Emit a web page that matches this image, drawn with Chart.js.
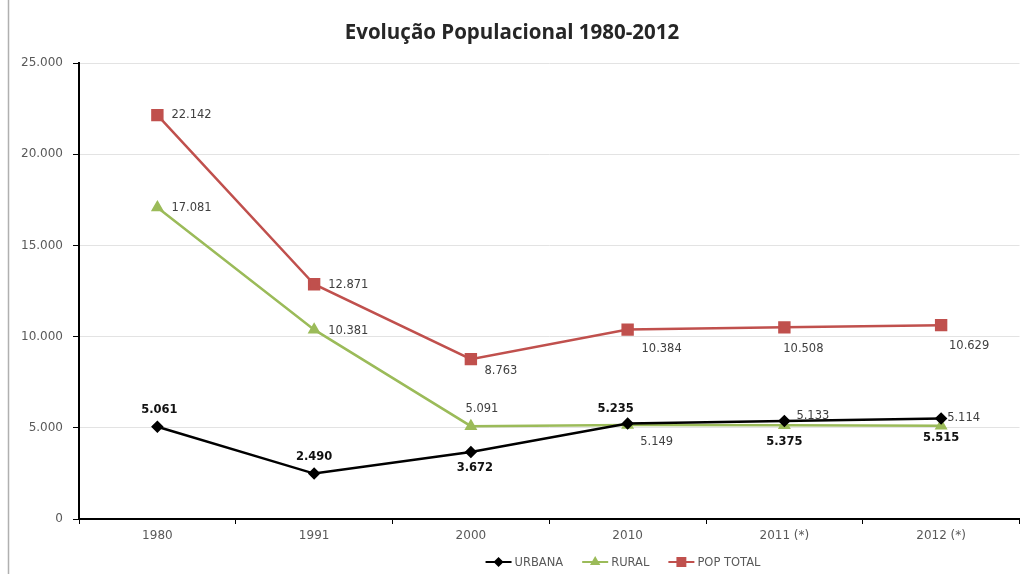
<!DOCTYPE html>
<html>
<head>
<meta charset="utf-8">
<script src="https://cdn.jsdelivr.net/npm/chart.js@4/dist/chart.umd.min.js"></script>
<style>
html, body { margin: 0; padding: 0; background: #fff; }
#wrap { width: 1029px; height: 574px; }
</style>
</head>
<body>
<div id="wrap"><canvas id="chart" width="1029" height="574"></canvas></div>
<script>
const years = ["1980", "1991", "2000", "2010", "2011 (*)", "2012 (*)"];
const urbana = [5061, 2490, 3672, 5235, 5375, 5515];
const rural = [17081, 10381, 5091, 5149, 5133, 5114];
const popTotal = [22142, 12871, 8763, 10384, 10508, 10629];
const yMin = 0, yMax = 25000, yStep = 5000;

/* label offsets [dx, dy, align] relative to each point */
const urbanaLbl = [[2, -17, "center"], [0, -17, "center"], [4, 16, "center"], [-12, -14, "center"], [0, 21, "center"], [0, 20, "center"]];
const ruralLbl = [[14, 1, "left"], [14, 1, "left"], [11, -17, "center"], [29, 17, "center"], [12, -9, "left"], [6, -8, "left"]];
const popLbl = [[14, 0, "left"], [14, 1, "left"], [30, 12, "center"], [34, 19, "center"], [19, 22, "center"], [28, 21, "center"]];

const FONT = "'DejaVu Sans', sans-serif";
const fmt = n => String(n).replace(/\B(?=(\d{3})+(?!\d))/g, ".");

/* gray frame line on the left */
const framePlugin = {
    id: "frame",
    beforeDraw(chart) {
        const ctx = chart.ctx;
        ctx.save();
        ctx.strokeStyle = "#b0b0b0";
        ctx.lineWidth = 1.5;
        ctx.beginPath();
        ctx.moveTo(8.5, 0);
        ctx.lineTo(8.5, chart.height);
        ctx.stroke();
        ctx.restore();
    }
};

/* value labels next to the points */
const labelPlugin = {
    id: "valueLabels",
    afterDatasetsDraw(chart) {
        const ctx = chart.ctx;
        ctx.save();
        ctx.textBaseline = "middle";
        chart.data.datasets.forEach((ds, di) => {
            const meta = chart.getDatasetMeta(di);
            ctx.font = (ds.labelBold ? "bold " : "") + "11.5px " + FONT;
            ctx.fillStyle = ds.labelColor;
            meta.data.forEach((pt, i) => {
                const o = ds.labelPos[i];
                ctx.textAlign = o[2];
                ctx.fillText(fmt(ds.data[i]), pt.x + o[0], pt.y + o[1]);
            });
        });
        ctx.restore();
    }
};

/* Excel-like legend: line + marker + text */
const legendPlugin = {
    id: "lineLegend",
    afterDraw(chart) {
        const ctx = chart.ctx;
        const y = 562, lineLen = 26, gap = 3, itemGap = 19;
        ctx.save();
        ctx.font = "11.5px " + FONT;
        ctx.textBaseline = "middle";
        const items = chart.data.datasets.map(ds => ({ ds, w: lineLen + gap + ctx.measureText(ds.label).width }));
        const total = items.reduce((s, it) => s + it.w, 0) + itemGap * (items.length - 1);
        let x = 623 - total / 2;
        items.forEach(it => {
            const ds = it.ds;
            ctx.strokeStyle = ds.borderColor;
            ctx.lineWidth = 2;
            ctx.beginPath();
            ctx.moveTo(x, y);
            ctx.lineTo(x + lineLen, y);
            ctx.stroke();
            ctx.fillStyle = ds.borderColor;
            Chart.helpers.drawPoint(ctx, {
                pointStyle: ds.pointStyle,
                radius: ds.pointRadius * 0.8,
                borderWidth: 1,
                rotation: 0
            }, x + lineLen / 2, y);
            ctx.fillStyle = "#595959";
            ctx.textAlign = "left";
            ctx.fillText(ds.label, x + lineLen + gap, y + 1);
            x += it.w + itemGap;
        });
        ctx.restore();
    }
};

new Chart(document.getElementById("chart"), {
    type: "line",
    data: {
        labels: years,
        datasets: [
            {
                label: "URBANA", data: urbana,
                borderColor: "#000000", backgroundColor: "#000000",
                pointStyle: "rectRot", pointRadius: 4.5, borderWidth: 2.5,
                labelPos: urbanaLbl, labelBold: true, labelColor: "#111111"
            },
            {
                label: "RURAL", data: rural,
                borderColor: "#9BBB59", backgroundColor: "#9BBB59",
                pointStyle: "triangle", pointRadius: 5, borderWidth: 2.5,
                labelPos: ruralLbl, labelBold: false, labelColor: "#404040"
            },
            {
                label: "POP TOTAL", data: popTotal,
                borderColor: "#C0504D", backgroundColor: "#C0504D",
                pointStyle: "rect", pointRadius: 7, borderWidth: 2.5,
                labelPos: popLbl, labelBold: false, labelColor: "#404040"
            }
        ]
    },
    options: {
        responsive: false,
        animation: false,
        layout: { padding: { left: 0, right: 5, top: 0, bottom: 0 } },
        plugins: {
            legend: { display: false },
            tooltip: { enabled: false },
            title: {
                display: true,
                text: "Evolução Populacional 1980-2012",
                color: "#262626",
                font: { family: "'Open Sans', sans-serif", size: 20.5, weight: "bold", lineHeight: 1.2 },
                padding: { top: 21, bottom: 17.4 }
            }
        },
        scales: {
            x: {
                offset: true,
                grid: { drawOnChartArea: false, drawTicks: true, tickLength: 5, tickColor: "#000", offset: true },
                border: { color: "#000", width: 2 },
                ticks: { color: "#595959", font: { family: FONT, size: 12 }, padding: 5, maxRotation: 0 },
                afterFit(s) { s.height = 55; }
            },
            y: {
                min: yMin, max: yMax,
                grid: { color: "#e3e3e3", tickColor: "#000", tickLength: 6 },
                border: { color: "#000", width: 2 },
                ticks: { stepSize: yStep, color: "#595959", font: { family: FONT, size: 12 }, padding: 10, callback: v => fmt(v) },
                afterFit(s) { s.width = 79; }
            }
        }
    },
    plugins: [framePlugin, labelPlugin, legendPlugin]
});
</script>
</body>
</html>
